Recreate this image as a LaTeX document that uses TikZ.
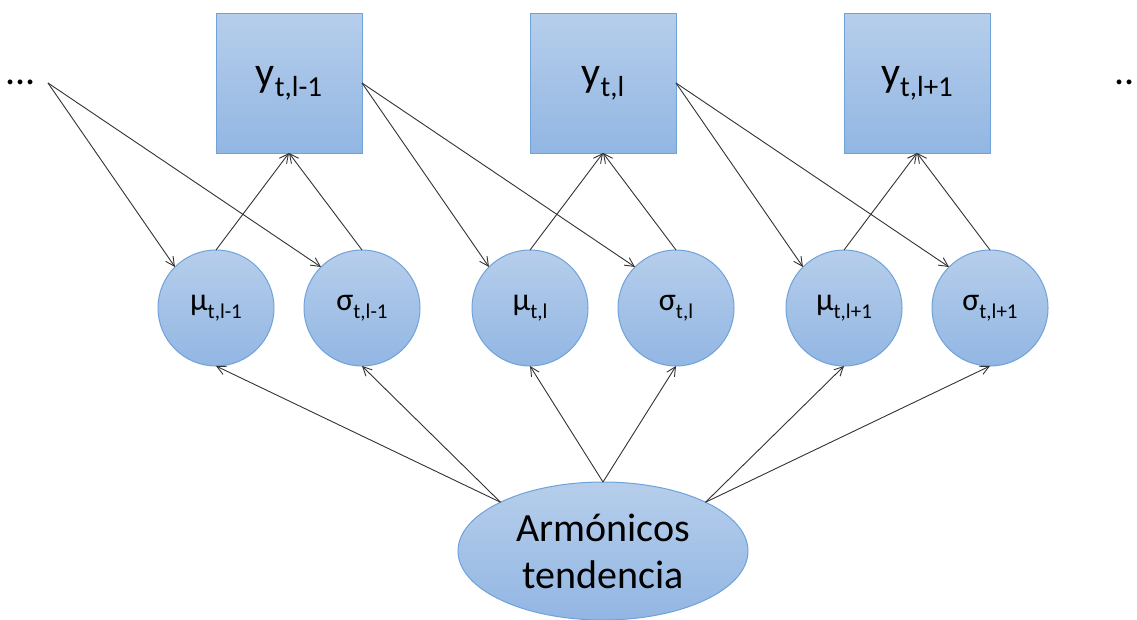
\documentclass[tikz,border=0pt]{standalone}
\usepackage{fontspec}
\setmainfont{Carlito}
\usetikzlibrary{shapes.geometric,arrows.meta}
\definecolor{fillTop}{RGB}{182,206,235}
\definecolor{fillBot}{RGB}{146,182,227}
\definecolor{edgeBlue}{RGB}{112,162,218}
\definecolor{lineGray}{RGB}{50,50,50}
\tikzset{
  base/.style={draw=edgeBlue, line width=1pt, top color=fillTop, bottom color=fillBot, inner sep=0pt, outer sep=0pt, text=black},
  ybox/.style={base, rectangle, minimum width=146pt, minimum height=140pt},
  par/.style={base, circle, minimum size=116pt},
  harm/.style={base, ellipse, minimum width=290pt, minimum height=138pt, align=center, font=\fontsize{40}{47}\selectfont},
  dots/.style={anchor=base west, inner sep=0pt, font=\fontsize{40}{42}\selectfont},
  conn/.style={draw=lineGray, line width=0.9pt, -{Straight Barb[length=9pt,width=9pt]}},
}
\newcommand{\ylab}[1]{{\fontsize{42}{44}\selectfont y}\raisebox{-10pt}{\fontsize{29}{31}\selectfont #1}}
\newcommand{\plab}[2]{{\fontsize{32}{34}\selectfont #1}\raisebox{-8pt}{\fontsize{21}{23}\selectfont #2}}
\begin{document}
\begin{tikzpicture}[x=1pt,y=-1pt]
\useasboundingbox (0,0) rectangle (1137,619);
\clip (0,0) rectangle (1137,619);
\node[ybox] (y1) at (289,83) {\ylab{t,l-1}};
\node[ybox] (y2) at (603,83) {\ylab{t,l}};
\node[ybox] (y3) at (917,83) {\ylab{t,l+1}};
\node[par] (m1) at (216,308) {\plab{μ}{t,l-1}};
\node[par] (s1) at (362,308) {\plab{σ}{t,l-1}};
\node[par] (m2) at (530,308) {\plab{μ}{t,l}};
\node[par] (s2) at (676,308) {\plab{σ}{t,l}};
\node[par] (m3) at (844,308) {\plab{μ}{t,l+1}};
\node[par] (s3) at (990,308) {\plab{σ}{t,l+1}};
\node[harm] (E) at (603,551) {Armónicos\\tendencia};
\node[dots] (dl) at (5,84) {{.}{.}{.}};
\node[dots] (dr) at (1114,84) {{.}{.}};
\coordinate (L) at (48,83);
\draw[conn] (L) -- (m1.north west);
\draw[conn] (L) -- (s1.north west);
\draw[conn] (y1.east) -- (m2.north west);
\draw[conn] (y1.east) -- (s2.north west);
\draw[conn] (y2.east) -- (m3.north west);
\draw[conn] (y2.east) -- (s3.north west);
\draw[conn] (m1.north) -- (y1.south);
\draw[conn] (s1.north) -- (y1.south);
\draw[conn] (m2.north) -- (y2.south);
\draw[conn] (s2.north) -- (y2.south);
\draw[conn] (m3.north) -- (y3.south);
\draw[conn] (s3.north) -- (y3.south);
\draw[conn] (E.north west) -- (m1.south);
\draw[conn] (E.north west) -- (s1.south);
\draw[conn] (E.north) -- (m2.south);
\draw[conn] (E.north) -- (s2.south);
\draw[conn] (E.north east) -- (m3.south);
\draw[conn] (E.north east) -- (s3.south);
\end{tikzpicture}
\end{document}
